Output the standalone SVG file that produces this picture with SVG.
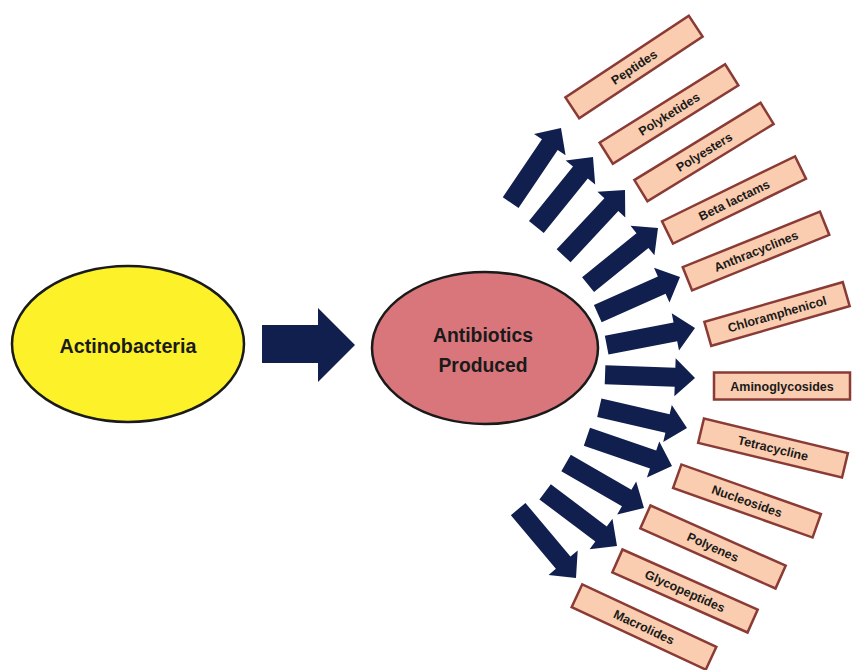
<svg xmlns="http://www.w3.org/2000/svg" xmlns:xlink="http://www.w3.org/1999/xlink" width="853" height="670" viewBox="0 0 853 670">
<style>
.bx rect{fill:#fbcdb0;stroke:#8a3b36;stroke-width:2.5}
.bx text{font-family:"Liberation Sans",Arial,sans-serif;font-weight:bold;font-size:12.5px;fill:#1a1a1a;text-anchor:middle}
.big{font-family:"Liberation Sans",Arial,sans-serif;font-weight:bold;font-size:20px;fill:#1a1a1a;text-anchor:middle}
.arr{fill:#111f4e}
</style>
<defs>
<path id="fa" d="M-90,-9.5 L-20,-9.5 L-20,-19 L0,0 L-20,19 L-20,9.5 L-90,9.5 Z"/>
</defs>
<rect width="853" height="670" fill="#ffffff"/>
<g id="actinobacteria">
<ellipse cx="128" cy="344" rx="116" ry="78" fill="#fdf22a" stroke="#1a1a1a" stroke-width="2.5"/>
<text class="big" x="128" y="353" textLength="137" lengthAdjust="spacingAndGlyphs">Actinobacteria</text>
</g>
<g id="antibiotics">
<ellipse cx="485" cy="348" rx="113" ry="76" fill="#d8767c" stroke="#1a1a1a" stroke-width="2.5"/>
<text class="big" x="483" y="342" textLength="100" lengthAdjust="spacingAndGlyphs">Antibiotics</text>
<text class="big" x="483" y="372" textLength="89" lengthAdjust="spacingAndGlyphs">Produced</text>
</g>
<g id="connectors" class="arr">
<path d="M262,325 L318,325 L318,308 L355,345 L318,382 L318,363 L262,363 Z"/>
<use xlink:href="#fa" href="#fa" transform="translate(561,128) rotate(-56)"/>
<use xlink:href="#fa" href="#fa" transform="translate(593,157) rotate(-51)"/>
<use xlink:href="#fa" href="#fa" transform="translate(625,190) rotate(-47)"/>
<use xlink:href="#fa" href="#fa" transform="translate(658,228) rotate(-39)"/>
<use xlink:href="#fa" href="#fa" transform="translate(680,277) rotate(-24)"/>
<use xlink:href="#fa" href="#fa" transform="translate(695,328) rotate(-11)"/>
<use xlink:href="#fa" href="#fa" transform="translate(695,378) rotate(2)"/>
<use xlink:href="#fa" href="#fa" transform="translate(687,428) rotate(13)"/>
<use xlink:href="#fa" href="#fa" transform="translate(672,466) rotate(19)"/>
<use xlink:href="#fa" href="#fa" transform="translate(644,508) rotate(30)"/>
<use xlink:href="#fa" href="#fa" transform="translate(617,546) rotate(37)"/>
<use xlink:href="#fa" href="#fa" transform="translate(576,578) rotate(50)"/>
</g>
<g id="peptides" class="bx" transform="translate(634,67) rotate(-33.5)"><rect x="-74" y="-12.5" width="148" height="25"/><text x="0" y="4.5">Peptides</text></g>
<g id="polyketides" class="bx" transform="translate(669,114) rotate(-32)"><rect x="-74" y="-12.5" width="148" height="25"/><text x="0" y="4.5">Polyketides</text></g>
<g id="polyesters" class="bx" transform="translate(704,152) rotate(-31.5)"><rect x="-74" y="-12.5" width="148" height="25"/><text x="0" y="4.5">Polyesters</text></g>
<g id="beta-lactams" class="bx" transform="translate(734,200) rotate(-26)"><rect x="-74" y="-12.5" width="148" height="25"/><text x="0" y="4.5">Beta lactams</text></g>
<g id="anthracyclines" class="bx" transform="translate(756,251) rotate(-22)"><rect x="-74" y="-12.5" width="148" height="25"/><text x="0" y="4.5">Anthracyclines</text></g>
<g id="chloramphenicol" class="bx" transform="translate(777,314) rotate(-16)"><rect x="-72" y="-12.5" width="144" height="25"/><text x="0" y="4.5">Chloramphenicol</text></g>
<g id="aminoglycosides" class="bx" transform="translate(782,386)"><rect x="-68" y="-13.5" width="136" height="27"/><text x="0" y="4.5">Aminoglycosides</text></g>
<g id="tetracycline" class="bx" transform="translate(773,448) rotate(13.5)"><rect x="-74" y="-12.5" width="148" height="25"/><text x="0" y="4.5">Tetracycline</text></g>
<g id="nucleosides" class="bx" transform="translate(747,501) rotate(19.5)"><rect x="-74" y="-12.5" width="148" height="25"/><text x="0" y="4.5">Nucleosides</text></g>
<g id="polyenes" class="bx" transform="translate(713,547) rotate(24)"><rect x="-74" y="-12.5" width="148" height="25"/><text x="0" y="4.5">Polyenes</text></g>
<g id="glycopeptides" class="bx" transform="translate(685,591) rotate(24)"><rect x="-74" y="-12.5" width="148" height="25"/><text x="0" y="4.5">Glycopeptides</text></g>
<g id="macrolides" class="bx" transform="translate(644,627) rotate(25)"><rect x="-74" y="-12.5" width="148" height="25"/><text x="0" y="4.5">Macrolides</text></g>
</svg>
